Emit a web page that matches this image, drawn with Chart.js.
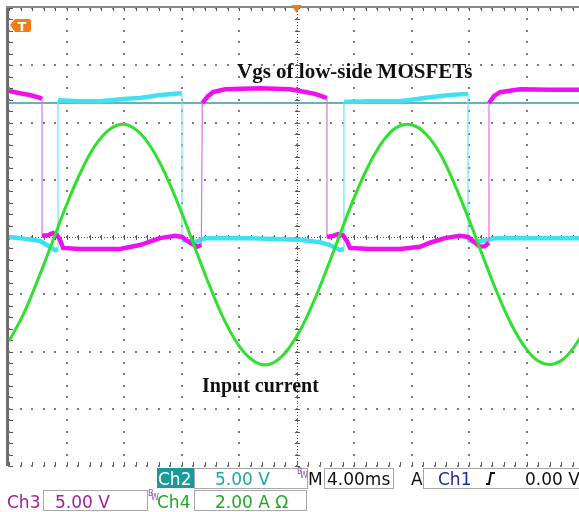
<!DOCTYPE html>
<html>
<head>
<meta charset="utf-8">
<script src="https://cdn.jsdelivr.net/npm/chart.js@4.4.1/dist/chart.umd.min.js"></script>
<style>
  html, body { margin: 0; padding: 0; background: #fff; overflow: hidden; }
  canvas { display: block; }
</style>
</head>
<body>
<canvas id="scope" width="590" height="512"></canvas>
<script>
// time axis in ms (4 ms/div), vertical in divisions
var ch3Time = [-20.00,-19.23,-18.54,-17.84,-17.70,-17.70,-17.29,-16.94,-16.66,-16.45,-16.24,-15.06,-13.67,-12.28,-10.89,-9.50,-8.45,-7.97,-7.41,-6.92,-6.62,-6.55,-6.16,-5.81,-4.97,-2.54,-0.45,0.24,1.29,1.98,2.12,2.12,2.54,2.89,3.23,3.51,3.72,5.11,7.20,8.59,9.29,10.33,11.37,11.93,12.42,12.77,13.11,13.39,13.39,13.74,14.16,15.55,17.63,20.00];
var ch3Div = [2.55,2.51,2.48,2.43,2.41,0.02,0.03,0.07,0.03,-0.05,-0.19,-0.21,-0.21,-0.21,-0.14,-0.02,0.02,0.00,-0.10,-0.17,-0.14,2.34,2.46,2.53,2.58,2.60,2.58,2.55,2.50,2.44,2.43,0.00,0.02,0.05,0.03,-0.07,-0.19,-0.21,-0.21,-0.17,-0.10,-0.02,0.02,0.00,-0.10,-0.17,-0.16,-0.10,2.34,2.46,2.53,2.58,2.57,2.57];

var ch2Time = [-20.00,-19.23,-17.84,-17.15,-16.80,-16.59,-16.59,-15.06,-13.67,-12.00,-10.89,-9.50,-7.97,-7.97,-7.55,-7.06,-6.37,-3.23,0.24,1.63,2.33,3.03,3.30,3.30,5.11,7.20,9.29,10.68,11.93,11.93,12.42,12.91,13.81,16.94,20.00];
var ch2Div = [0.00,-0.02,-0.07,-0.17,-0.23,-0.21,2.39,2.37,2.37,2.41,2.43,2.48,2.51,-0.05,-0.07,-0.09,-0.02,-0.02,-0.05,-0.09,-0.14,-0.23,-0.21,2.36,2.37,2.37,2.44,2.48,2.50,-0.05,-0.09,-0.07,-0.02,-0.02,-0.02];

var ch4Time = [-20,-19,-18,-17,-16,-15,-14,-13,-12,-11,-10,-9,-8,-7,-6,-5,-4,-3,-2,-1,0,1,2,3,4,5,6,7,8,9,10,11,12,13,14,15,16,17,18,19,20];
var ch4Div = [-1.82,-1.35,-0.75,-0.10,0.56,1.14,1.60,1.88,1.97,1.84,1.52,1.03,0.43,-0.23,-0.88,-1.46,-1.90,-2.16,-2.23,-2.08,-1.74,-1.24,-0.63,0.03,0.68,1.24,1.67,1.92,1.96,1.80,1.45,0.92,0.30,-0.36,-1.00,-1.55,-1.96,-2.19,-2.21,-2.02,-1.66];

var refLevel = [2.34, 2.34];
var refTime = [-20, 20];

function pts(xs, ys) {
    return xs.map(function (x, i) { return { x: x, y: ys[i] }; });
}

function isEdge(c) {
    return Math.abs(c.p0.parsed.x - c.p1.parsed.x) < 0.1 && Math.abs(c.p0.parsed.y - c.p1.parsed.y) > 1;
}
function edgeWidth(w) {
    return function (c) { return isEdge(c) ? 1.2 : w; };
}
function edgeColor(col, edge) {
    return function (c) { return isEdge(c) ? edge : col; };
}

var scopeDeco = {
    id: "scopeDeco",
    beforeDatasetsDraw: function (chart) {
        var ctx = chart.ctx, a = chart.chartArea;
        var xs = chart.scales.x, ys = chart.scales.y;
        var cx = xs.getPixelForValue(0), cy = ys.getPixelForValue(0);
        var dx = (xs.getPixelForValue(4) - cx) / 5;
        var dy = (ys.getPixelForValue(0) - ys.getPixelForValue(1)) / 5;
        ctx.save();
        // dotted graticule on the scale ticks
        ctx.fillStyle = "#7a7a7a";
        xs.ticks.forEach(function (t) {
            var gx = Math.round(xs.getPixelForValue(t.value));
            for (var k = 0; k <= 40; k++) ctx.fillRect(gx - 1, Math.round(a.top + k * dy) - 1, 2, 2);
        });
        ys.ticks.forEach(function (t) {
            var gy = Math.round(ys.getPixelForValue(t.value));
            for (var k = 0; k <= 50; k++) ctx.fillRect(Math.round(a.left + k * dx) - 1, gy - 1, 2, 2);
        });
        ctx.fillStyle = "#555";
        // centre cross with minor ticks
        for (var x = a.left; x <= a.right + 1; x += 2.875) ctx.fillRect(Math.round(x), Math.round(cy), 1, 1);
        for (var y = a.top; y <= a.bottom + 1; y += 2.865) ctx.fillRect(Math.round(cx), Math.round(y), 1, 1);
        for (var i = 0; i <= 50; i++) {
            var px = Math.round(a.left + i * dx);
            ctx.fillRect(px, Math.round(cy) - 2, 1, 5);
            ctx.fillRect(px, a.top, 1, 3);
            ctx.fillRect(px, a.bottom - 4, 1, 3);
        }
        for (var j = 0; j <= 40; j++) {
            var py = Math.round(a.top + j * dy);
            ctx.fillRect(Math.round(cx) - 2, py, 5, 1);
            ctx.fillRect(a.left + 1, py, 3, 1);
        }
        // frame
        ctx.fillStyle = "#6e6e6e";
        ctx.fillRect(a.left - 3, a.top - 2, 3, a.bottom - a.top + 2);
        ctx.fillStyle = "#8a8a8a";
        ctx.fillRect(a.left - 3, a.top - 2, a.right - a.left + 6, 2);
        ctx.restore();
    },
    afterDraw: function (chart) {
        var ctx = chart.ctx, a = chart.chartArea;
        var cx = chart.scales.x.getPixelForValue(0);
        ctx.save();
        // trigger position marker
        ctx.fillStyle = "#f07c12";
        ctx.beginPath();
        ctx.moveTo(cx - 5, a.top - 3);
        ctx.lineTo(cx + 5, a.top - 3);
        ctx.lineTo(cx, a.top + 5);
        ctx.closePath();
        ctx.fill();
        // trigger level marker
        ctx.beginPath();
        ctx.moveTo(a.left + 1, a.top + 17);
        ctx.lineTo(a.left + 6, a.top + 11);
        ctx.lineTo(a.left + 20, a.top + 11);
        ctx.quadraticCurveTo(a.left + 22, a.top + 11, a.left + 22, a.top + 13);
        ctx.lineTo(a.left + 22, a.top + 22);
        ctx.quadraticCurveTo(a.left + 22, a.top + 24, a.left + 20, a.top + 24);
        ctx.lineTo(a.left + 6, a.top + 24);
        ctx.closePath();
        ctx.fill();
        ctx.fillStyle = "#fff";
        ctx.font = "bold 13px 'DejaVu Sans'";
        ctx.textAlign = "center";
        ctx.fillText("T", a.left + 13, a.top + 23);

        // annotations
        ctx.fillStyle = "#111";
        ctx.textAlign = "left";
        ctx.font = "bold 21px 'Liberation Serif'";
        ctx.fillText("Vgs of low-side MOSFETs", 237, 78);
        ctx.font = "bold 20px 'Liberation Serif'";
        ctx.fillText("Input current", 202, 392);

        // status bar
        ctx.font = "17px 'DejaVu Sans'";
        ctx.lineWidth = 1;
        ctx.strokeStyle = "#a8a8a8";
        ctx.fillStyle = "#189a9e";
        ctx.fillRect(157, 468, 37, 20);
        ctx.fillStyle = "#fff";
        ctx.fillText("Ch2", 158, 485);
        ctx.strokeRect(194.5, 468.5, 113, 20);
        ctx.fillStyle = "#1ea5a8";
        ctx.fillText("5.00 V", 215, 485);
        ctx.fillStyle = "#111";
        ctx.fillText("M", 308, 485);
        ctx.strokeRect(324.5, 468.5, 69, 20);
        ctx.fillText("4.00ms", 327, 485);
        ctx.fillText("A", 411, 485);
        ctx.strokeRect(423.5, 468.5, 175, 20);
        ctx.fillStyle = "#1c2a9a";
        ctx.fillText("Ch1", 438, 485);
        ctx.fillStyle = "#111";
        ctx.fillText("0.00 V", 525, 485);
        ctx.strokeStyle = "#111";
        ctx.lineWidth = 2;
        ctx.beginPath();
        ctx.moveTo(486, 484);
        ctx.lineTo(489, 484);
        ctx.lineTo(491, 473);
        ctx.lineTo(495, 473);
        ctx.stroke();

        ctx.lineWidth = 1;
        ctx.strokeStyle = "#a8a8a8";
        ctx.fillStyle = "#a020a0";
        ctx.fillText("Ch3", 7, 508);
        ctx.strokeRect(43.5, 490.5, 104, 20);
        ctx.fillText("5.00 V", 55, 508);
        ctx.fillStyle = "#22a822";
        ctx.fillText("Ch4", 157, 508);
        ctx.strokeRect(194.5, 490.5, 112, 20);
        ctx.fillText("2.00 A \u03A9", 215, 508);

        ctx.font = "8px 'DejaVu Sans'";
        ctx.fillStyle = "#8a5aa8";
        ctx.fillText("B", 297, 474);
        ctx.fillText("W", 300, 478);
        ctx.fillText("B", 148, 496);
        ctx.fillText("W", 151, 500);
        ctx.restore();
    }
};

new Chart(document.getElementById("scope"), {
    type: "line",
    data: {
        datasets: [
            {
                data: pts(ch4Time, ch4Div),
                borderColor: "#2fe02f",
                borderWidth: 3,
                tension: 0.4,
                pointRadius: 0,
                order: 1
            },
            {
                data: pts(ch3Time, ch3Div),
                borderColor: "#ee10ee",
                borderWidth: 4.5,
                pointRadius: 0,
                order: 2,
                segment: { borderWidth: edgeWidth(4.5), borderColor: edgeColor("#ee10ee", "#e070e0") }
            },
            {
                data: pts(ch2Time, ch2Div),
                borderColor: "#3ee2ee",
                borderWidth: 4.5,
                pointRadius: 0,
                order: 3,
                segment: { borderWidth: edgeWidth(4.5), borderColor: edgeColor("#3ee2ee", "#6ae8f2") }
            },
            {
                data: pts(refTime, refLevel),
                borderColor: "#23a0a6",
                borderWidth: 1.5,
                pointRadius: 0,
                order: 4
            }
        ]
    },
    options: {
        responsive: false,
        animation: false,
        devicePixelRatio: 1,
        layout: { padding: { left: 9, top: 8, right: 6, bottom: 46 } },
        plugins: { legend: { display: false }, tooltip: { enabled: false } },
        scales: {
            x: {
                type: "linear",
                min: -20,
                max: 20,
                ticks: { display: false, stepSize: 4 },
                border: { display: false },
                grid: { color: "rgba(0,0,0,0)", drawTicks: false }
            },
            y: {
                min: -4,
                max: 4,
                ticks: { display: false, stepSize: 1 },
                border: { display: false },
                grid: { color: "rgba(0,0,0,0)", drawTicks: false }
            }
        }
    },
    plugins: [scopeDeco]
});
</script>
</body>
</html>
